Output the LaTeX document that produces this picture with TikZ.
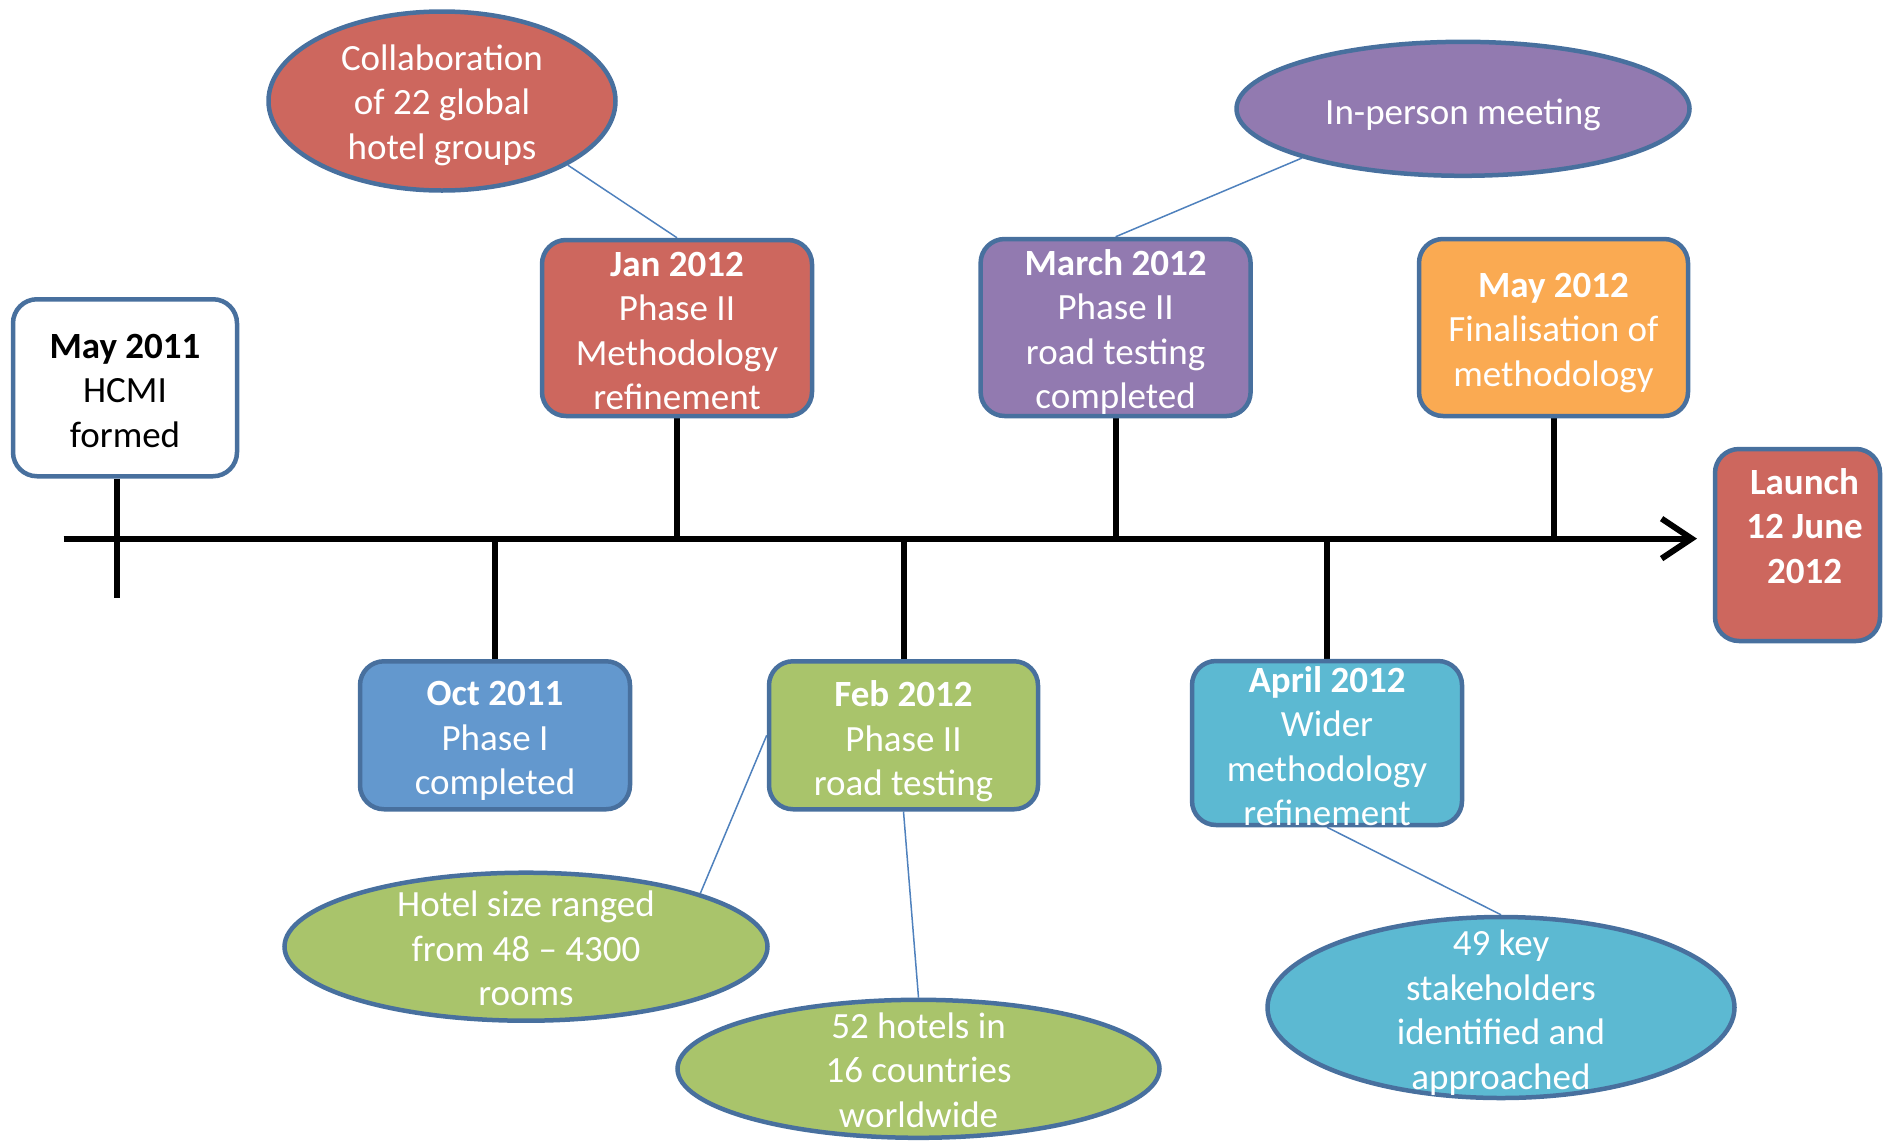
\documentclass[tikz,border=0pt]{standalone}
\usepackage{fontspec}
\setmainfont{Carlito}
\usetikzlibrary{shapes.geometric,arrows.meta,backgrounds}
\definecolor{cred}{RGB}{205,103,94}
\definecolor{cpurple}{RGB}{146,122,176}
\definecolor{cblue}{RGB}{99,152,206}
\definecolor{cgreen}{RGB}{169,196,107}
\definecolor{ccyan}{RGB}{92,185,210}
\definecolor{corange}{RGB}{250,170,82}
\definecolor{cborder}{RGB}{72,112,158}
\definecolor{clink}{RGB}{79,129,189}
\begin{document}
\begin{tikzpicture}[x=1pt,y=-1pt,
  evbox/.style={draw=cborder, line width=4.5pt, rounded corners=24pt, inner sep=0pt},
  bubble/.style={ellipse, draw=cborder, line width=4.5pt, inner sep=0pt},
  txt/.style={font=\fontsize{37}{44.5}\selectfont, align=center, text=white, inner sep=0pt},
  tickline/.style={line width=6pt, draw=black},
  link/.style={draw=clink, line width=1.5pt}]
\useasboundingbox (0,0) rectangle (1885,1144);

% event boxes
\node[evbox, fill=white, minimum width=224pt, minimum height=177pt] (may11) at (125,387.75) {};
\node[evbox, fill=cred, minimum width=270pt, minimum height=176pt] (jan) at (677,328) {};
\node[evbox, fill=cblue, minimum width=270pt, minimum height=148pt] (oct) at (495,735.25) {};
\node[evbox, fill=cgreen, minimum width=269pt, minimum height=148pt] (feb) at (903.5,735.25) {};
\node[evbox, fill=cpurple, minimum width=270pt, minimum height=177pt] (march) at (1115.6,327.5) {};
\node[evbox, fill=ccyan, minimum width=270pt, minimum height=164pt] (april) at (1327,743) {};
\node[evbox, fill=corange, minimum width=269pt, minimum height=177pt] (may12) at (1553.5,327.5) {};
\node[evbox, fill=cred, minimum width=165pt, minimum height=192pt] (launch) at (1797.5,545) {};

% bubbles
\node[bubble, fill=cred, minimum width=347pt, minimum height=179pt] (collab) at (442,101) {};
\node[bubble, fill=cpurple, minimum width=453pt, minimum height=134pt] (inperson) at (1463,108.8) {};
\node[bubble, fill=cgreen, minimum width=483pt, minimum height=148pt] (hotel) at (526,946.7) {};
\node[bubble, fill=cgreen, minimum width=482pt, minimum height=138pt] (h52) at (918.5,1068.8) {};
\node[bubble, fill=ccyan, minimum width=467pt, minimum height=181pt] (key) at (1501,1007.5) {};

% texts
\node[txt, text=black] (may11t) at ([yshift=-3pt]may11.center) {\textbf{May 2011}\\HCMI\\formed};
\node[txt] (jant) at ([yshift=-3pt]jan.center) {\textbf{Jan 2012}\\Phase II\\Methodology\\refinement};
\node[txt] (octt) at ([yshift=-6pt]oct.center) {\textbf{Oct 2011}\\Phase I\\completed};
\node[txt] (febt) at ([yshift=-6pt]feb.center) {\textbf{Feb 2012}\\Phase II\\road testing};
\node[txt] (marcht) at ([yshift=-4.5pt]march.center) {\textbf{March 2012}\\Phase II\\road testing\\completed};
\node[txt] (aprilt) at ([yshift=-3pt]april.center) {\textbf{April 2012}\\Wider\\methodology\\refinement};
\node[txt] (may12t) at ([yshift=-5.5pt]may12.center) {\textbf{May 2012}\\Finalisation of\\methodology};
\node[txt] (launcht) at ([xshift=7pt,yshift=19pt]launch.center) {\textbf{Launch}\\\textbf{12 June}\\\textbf{2012}};
\node[txt] (collabt) at ([yshift=-4pt]collab.center) {Collaboration\\of 22 global\\hotel groups};
\node[txt] (inpersont) at ([yshift=-6.5pt]inperson.center) {In-person meeting};
\node[txt] (hotelt) at ([yshift=-2pt]hotel.center) {Hotel size ranged\\from 48 – 4300\\rooms};
\node[txt] (h52t) at ([yshift=-1pt]h52.center) {52 hotels in\\16 countries\\worldwide};
\node[txt] (keyt) at ([yshift=-5pt]key.center) {49 key\\stakeholders\\identified and\\approached};

\coordinate (tl0) at (63.7,538.6);
\coordinate (tl1) at (1697,538.6);
\coordinate (m11end) at (116.6,597.5);

\begin{pgfonlayer}{background}
\draw[tickline, -{Straight Barb[length=30pt,width=40pt]}] (tl0) -- (tl1);
\draw[tickline] (may11.south -| m11end) -- (m11end);
\draw[tickline] (jan.south) -- (jan.south |- tl0);
\draw[tickline] (oct.north) -- (oct.north |- tl0);
\draw[tickline] (feb.north) -- (feb.north |- tl0);
\draw[tickline] (march.south) -- (march.south |- tl0);
\draw[tickline] (april.north) -- (april.north |- tl0);
\draw[tickline] (may12.south) -- (may12.south |- tl0);
\draw[link] (collab.-27.7) -- (jan.north);
\draw[link] (inperson.-163.7) -- (march.north);
\draw[link] (hotel.17.7) -- (feb.west);
\draw[link] (feb.south) -- (h52.north);
\draw[link] (april.south) -- (key.north);
\end{pgfonlayer}
\end{tikzpicture}
\end{document}
